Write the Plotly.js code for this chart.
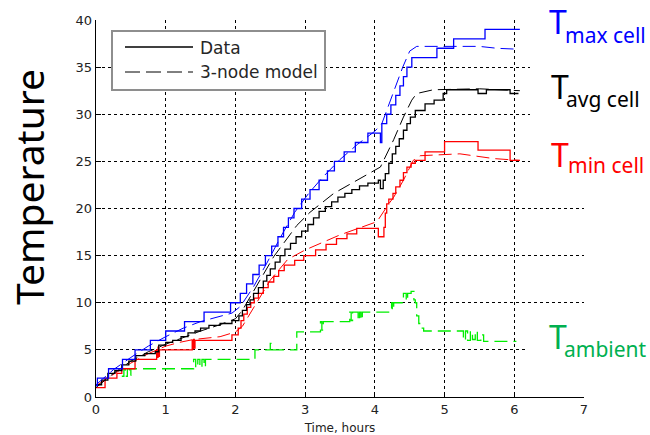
<!DOCTYPE html>
<html>
<head>
<meta charset="utf-8">
<script src="https://cdn.plot.ly/plotly-3.0.1.min.js"></script>
<style>
  html, body { margin: 0; padding: 0; background: #fff; }
  #chart { width: 650px; height: 435px; }
</style>
</head>
<body>
<div id="chart"></div>
<script>
// Cell temperatures during a charge test: measured (steps) vs 3-node model.
// Time in hours, temperature in °C.

// Maximum cell temperature – measured
const maxDataTime = [0, 0.02, 0.18, 0.38, 0.56, 0.78, 1.0, 1.27, 1.55, 1.93,
  2.07, 2.16, 2.25, 2.34, 2.43, 2.52, 2.61, 2.69, 2.76, 2.84,
  2.95, 3.07, 3.2, 3.32, 3.42, 3.56, 3.72, 3.9, 4.08, 4.1,
  4.17, 4.23, 4.3, 4.36, 4.41, 4.46, 4.53, 4.89, 5.13, 5.58, 6.08];
const maxDataTemp = [1.2, 2, 3, 4, 5, 6, 7, 8, 9, 10,
  11, 12, 13, 14, 15, 16, 17, 18, 19, 20,
  21, 22, 23, 24, 25, 26, 27, 28, 27, 29,
  30, 31, 32, 33, 34, 35, 36, 37, 38, 39, 39];

// Maximum cell temperature – model
const maxModelTime = [0, 0.25, 0.5, 0.75, 1.0, 1.25, 1.5, 1.75, 1.95, 2.07,
  2.26, 2.45, 2.65, 2.85, 3.05, 3.25, 3.5, 3.75, 4.0, 4.1,
  4.2, 4.3, 4.4, 4.5, 4.6, 5.0, 5.5, 5.75, 6.05];
const maxModelTemp = [1.3, 2.9, 4.2, 5.4, 6.4, 7.3, 8.0, 8.5, 8.9, 9.6,
  11.7, 14.2, 17.0, 19.6, 21.6, 23.3, 25.2, 26.8, 28.2, 29.0,
  31.0, 33.0, 35.0, 36.7, 37.2, 37.2, 37.2, 37.0, 36.9];

// Average cell temperature – measured
const avgDataTime = [0, 0.08, 0.17, 0.27, 0.37, 0.47, 0.57, 0.7, 0.85, 0.9,
  1.0, 1.1, 1.22, 1.32, 1.42, 1.5, 1.62, 1.78, 1.95, 2.05,
  2.1, 2.16, 2.21, 2.26, 2.33, 2.4, 2.45, 2.5, 2.57, 2.64,
  2.71, 2.79, 2.87, 2.95, 3.04, 3.12, 3.2, 3.29, 3.38, 3.47,
  3.57, 3.67, 3.78, 3.9, 4.05, 4.08, 4.12, 4.15, 4.2, 4.25,
  4.3, 4.35, 4.41, 4.46, 4.51, 4.58, 4.72, 4.85, 4.98, 5.03,
  5.48, 5.6, 5.94, 6.06];
const avgDataTemp = [1.3, 1.8, 2.5, 2.8, 3.4, 3.8, 4.4, 4.6, 4.8, 5.5,
  5.8, 6.0, 6.4, 6.8, 7.0, 7.3, 7.6, 7.8, 8.1, 8.6,
  9.2, 9.8, 10.3, 11.0, 11.6, 12.3, 12.9, 13.6, 14.3, 15.0,
  15.7, 16.3, 17.0, 17.6, 18.3, 19.0, 19.7, 20.2, 20.7, 21.2,
  21.6, 22.0, 22.4, 22.7, 23.0, 22.1, 23.0, 23.7, 24.8, 25.8,
  26.6, 27.4, 28.3, 29.0, 29.7, 30.4, 31.1, 31.5, 32.2, 32.6,
  32.2, 32.6, 32.2, 32.2];

// Average cell temperature – model
const avgModelTime = [0, 0.25, 0.5, 0.75, 1.0, 1.25, 1.5, 1.75, 2.0, 2.1,
  2.3, 2.55, 2.88, 3.07, 3.41, 3.84, 4.08, 4.27, 4.41, 4.53,
  4.6, 4.84, 5.5, 6.08];
const avgModelTemp = [1.0, 2.5, 3.8, 4.8, 5.6, 6.3, 7.0, 7.6, 8.3, 9.2,
  11.8, 14.9, 18.2, 19.6, 21.6, 23.4, 24.4, 27.3, 29.7, 31.5,
  32.2, 32.6, 32.7, 32.5];

// Minimum cell temperature – measured
const minDataTime = [0, 0.13, 0.3, 0.37, 0.56, 0.87, 0.88, 0.89, 0.9, 0.91,
  1.38, 1.39, 1.40, 1.41, 1.42, 1.95, 2.04, 2.08, 2.12, 2.17,
  2.22, 2.27, 2.33, 2.4, 2.47, 2.55, 2.62, 2.7, 2.85, 2.98,
  3.15, 3.3, 3.45, 3.6, 3.74, 4.05, 4.13, 4.15, 4.17, 4.2,
  4.26, 4.3, 4.36, 4.41, 4.46, 4.52, 4.58, 4.72, 5.0, 5.48,
  5.94, 6.08];
const minDataTemp = [1.0, 2.0, 2.5, 3.0, 4.0, 5.0, 4.2, 5.3, 4.3, 5.0,
  6.0, 5.1, 6.1, 5.2, 6.0, 6.6, 7.3, 8.1, 8.8, 9.5,
  10.0, 10.5, 11.0, 11.6, 12.2, 12.8, 13.4, 14.0, 14.5, 15.0,
  15.6, 16.2, 16.8, 17.3, 17.9, 17.0, 18.0, 19.5, 20.5, 21.0,
  21.6, 22.3, 23.0, 23.8, 24.4, 24.8, 25.1, 26.0, 27.1, 26.2,
  25.1, 25.1];

// Minimum cell temperature – model
const minModelTime = [0, 0.25, 0.5, 0.75, 1.0, 1.2, 1.4, 1.78, 2.0, 2.1,
  2.3, 2.5, 2.75, 3.0, 3.5, 4.03, 4.2, 4.27, 4.41, 4.55,
  4.65, 5.22, 5.7, 6.08];
const minModelTemp = [1.2, 2.4, 3.6, 4.6, 5.4, 5.8, 6.1, 6.4, 6.9, 7.5,
  10.0, 12.4, 14.6, 15.6, 17.2, 18.6, 20.5, 21.2, 23.0, 25.1,
  25.6, 25.8, 25.3, 25.1];

// Ambient temperature
const ambientTime = [0.37, 0.40, 0.42, 0.45, 0.48, 0.50,
  1.40, 1.43, 1.46, 1.49, 1.52, 1.55, 1.57,
  2.28, 2.50, 2.52, 2.88,
  3.22, 3.24, 3.26,
  3.64, 3.66, 3.68, 3.76, 3.78, 3.80, 3.82,
  4.24, 4.25, 4.27,
  4.41, 4.45, 4.47, 4.52, 4.56, 4.58, 4.60, 4.63, 4.67, 4.70,
  5.27, 5.30, 5.33, 5.37, 5.40, 5.44, 5.47, 5.52, 5.56, 6.03];
const ambientTemp = [2.2, 3.0, 2.2, 3.0, 2.3, 3.0,
  4.0, 3.1, 4.0, 3.1, 4.0, 3.2, 4.0,
  5.0, 5.7, 5.0, 6.9,
  8.0, 7.1, 8.0,
  9.0, 8.1, 9.0, 8.1, 9.0, 8.2, 9.0,
  10.0, 9.2, 10.0,
  11.0, 10.2, 11.0, 11.2, 10.3, 10.0, 8.6, 7.8, 7.3, 7.0,
  6.0, 7.0, 6.0, 7.0, 6.1, 7.0, 6.0, 6.6, 5.9, 5.9];

// Axis ticks
const timeTicks = [0, 1, 2, 3, 4, 5, 6, 7];
const tempTicks = [0, 5, 10, 15, 20, 25, 30, 35, 40];

// Legend entries
const legendLabels = ['Data', '3-node model'];

// Series labels on the right: [main letter, subscript, colour]
const seriesLabels = [
  ['T', 'max cell', '#0000ff'],
  ['T', 'avg cell', '#000000'],
  ['T', 'min cell', '#ff0000'],
  ['T', 'ambient', '#00b050']
];

const BLUE = '#0000ff', BLACK = '#000000', RED = '#ff0000', GREEN = '#00ee00';
const DASH = '13px,6px';

function dataTrace(x, y, color) {
  return { x: x, y: y, type: 'scatter', mode: 'lines', showlegend: false,
    hoverinfo: 'skip', line: { shape: 'hv', color: color, width: 1.3 } };
}
function modelTrace(x, y, color) {
  return { x: x, y: y, type: 'scatter', mode: 'lines', showlegend: false,
    hoverinfo: 'skip', line: { color: color, width: 1, dash: DASH } };
}

const traces = [
  dataTrace(ambientTime, ambientTemp, GREEN),
  modelTrace(minModelTime, minModelTemp, RED),
  dataTrace(minDataTime, minDataTemp, RED),
  modelTrace(avgModelTime, avgModelTemp, BLACK),
  dataTrace(avgDataTime, avgDataTemp, BLACK),
  modelTrace(maxModelTime, maxModelTemp, BLUE),
  dataTrace(maxDataTime, maxDataTemp, BLUE)
];
traces[0].line.dash = DASH;

// pixel -> paper helpers for the plot area (l=96, t=20, w=488, h=377)
const PL = 96, PT = 20, PW = 488, PH = 377;
const px = v => (v - PL) / PW;
const py = v => (PT + PH - v) / PH;

const shapes = [
  // white panels behind the series labels
  { type: 'rect', xref: 'paper', yref: 'paper', layer: 'above',
    x0: px(530), x1: px(650), y0: py(185), y1: py(0),
    fillcolor: '#ffffff', line: { width: 0 } },
  { type: 'rect', xref: 'paper', yref: 'paper', layer: 'above',
    x0: px(527), x1: px(650), y0: py(368), y1: py(303.5),
    fillcolor: '#ffffff', line: { width: 0 } },
  // legend box and samples
  { type: 'rect', xref: 'paper', yref: 'paper', layer: 'above',
    x0: px(112), x1: px(325), y0: py(90), y1: py(31),
    fillcolor: '#ffffff', line: { color: '#8e8e8e', width: 2 } },
  { type: 'line', xref: 'paper', yref: 'paper', layer: 'above',
    x0: px(125), x1: px(193), y0: py(47), y1: py(47),
    line: { color: '#000000', width: 1.3 } },
  { type: 'line', xref: 'paper', yref: 'paper', layer: 'above',
    x0: px(125), x1: px(193), y0: py(72), y1: py(72),
    line: { color: '#000000', width: 1, dash: '15px,6px' } }
];

const annotations = [
  { text: legendLabels[0], xref: 'paper', yref: 'paper', x: px(198), y: py(48),
    xanchor: 'left', yanchor: 'middle', showarrow: false,
    font: { family: 'DejaVu Sans', size: 17, color: '#262626' } },
  { text: legendLabels[1], xref: 'paper', yref: 'paper', x: px(198), y: py(72),
    xanchor: 'left', yanchor: 'middle', showarrow: false,
    font: { family: 'DejaVu Sans', size: 17, color: '#262626' } },
  { text: 'Temperature', xref: 'paper', yref: 'paper', x: px(28), y: py(187),
    xanchor: 'center', yanchor: 'middle', textangle: -90, showarrow: false,
    font: { family: 'Noto Sans', size: 39, color: '#000000' } }
];

// positions of the right-hand labels: [T left, T middle, sub left, sub middle]
const labelPos = [
  [547, 21.5, 563, 35],
  [549, 86.7, 564, 98.6],
  [549, 154, 566, 165.2],
  [547, 336.7, 562, 348.6]
];
seriesLabels.forEach((s, i) => {
  const p = labelPos[i];
  annotations.push({ text: s[0], xref: 'paper', yref: 'paper', x: px(p[0]), y: py(p[1]),
    xanchor: 'left', yanchor: 'middle', showarrow: false,
    font: { family: 'Noto Sans', size: 32, color: s[2] } });
  annotations.push({ text: s[1], xref: 'paper', yref: 'paper', x: px(p[2]), y: py(p[3]),
    xanchor: 'left', yanchor: 'middle', showarrow: false,
    font: { family: 'Noto Sans', size: 21, color: s[2] } });
});

const axisCommon = {
  showgrid: true, gridcolor: '#000000', gridwidth: 1, griddash: '3px,3px',
  showline: true, linecolor: '#000000', linewidth: 1.3, mirror: false,
  zeroline: false, ticks: 'inside', ticklen: 5, tickcolor: '#000000',
  tickfont: { family: 'DejaVu Sans', size: 13, color: '#222222' }
};

const layout = {
  width: 650, height: 435,
  margin: { l: PL, r: 650 - PL - PW, t: PT, b: 435 - PT - PH },
  paper_bgcolor: '#ffffff', plot_bgcolor: '#ffffff',
  font: { family: 'DejaVu Sans', color: '#222222' },
  showlegend: false,
  xaxis: Object.assign({}, axisCommon, {
    range: [0, 7], tickvals: timeTicks, ticktext: timeTicks.map(String),
    title: { text: 'Time, hours', standoff: 7,
      font: { family: 'DejaVu Sans', size: 12, color: '#222222' } }
  }),
  yaxis: Object.assign({}, axisCommon, {
    range: [0, 40], tickvals: tempTicks, ticktext: tempTicks.map(String)
  }),
  shapes: shapes,
  annotations: annotations
};

Plotly.newPlot('chart', traces, layout, { staticPlot: true, displayModeBar: false });
</script>
</body>
</html>
